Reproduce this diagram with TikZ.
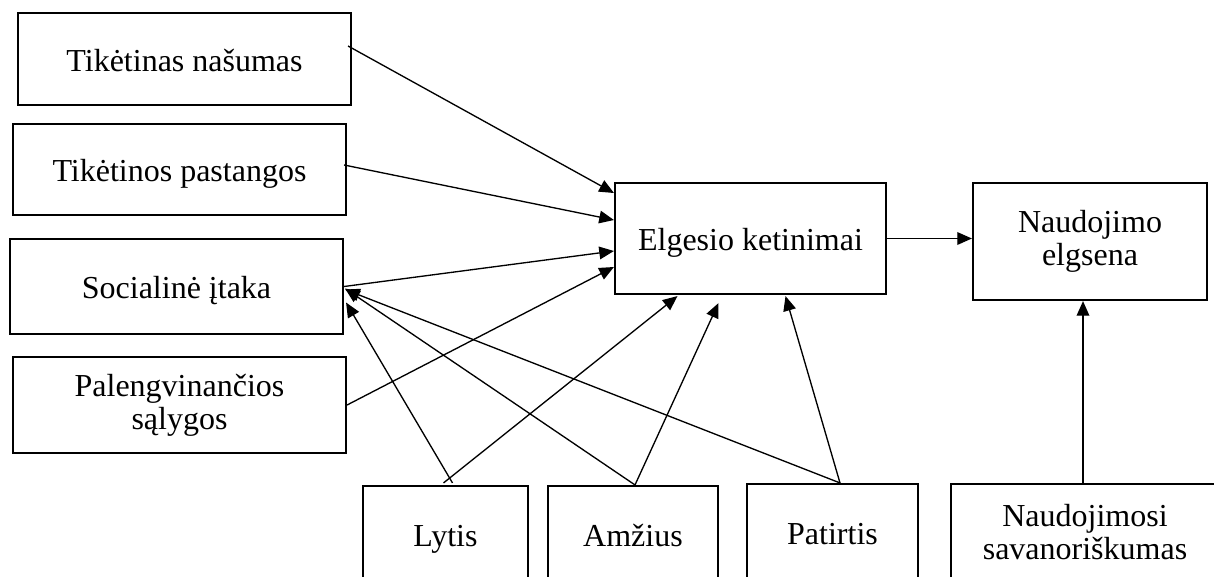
\documentclass[tikz,border=0pt]{standalone}
\usepackage{fontspec}
\setmainfont{Liberation Serif}
\usetikzlibrary{arrows.meta,calc}
\begin{document}
\begin{tikzpicture}[x=0.75pt,y=-0.75pt,
  box/.style={draw=black,line width=1.6pt,inner sep=0pt,align=center,
    font=\fontsize{24}{24.5}\selectfont,text=black,fill=white},
  one/.style={text height=24pt,text depth=6pt},
  conn/.style={line width=1pt,-{Triangle[length=11pt,width=9.5pt]}}]
\useasboundingbox (0,0) rectangle (1214,576);
\clip (0,0) rectangle (1214,576);
% boxes
\node[box,one,minimum width=249.75pt,minimum height=69pt] (TN) at (184.5,59) {Tikėtinas našumas};
\node[box,one,minimum width=249.75pt,minimum height=68.25pt] (TP) at (179.5,169.5) {Tikėtinos pastangos};
\node[box,one,minimum width=249.75pt,minimum height=71.25pt] (SI) at (176.5,286.5) {Socialinė įtaka};
\node[box,minimum width=249.75pt,minimum height=72pt] (PS) at (179.5,405) {Palengvinančios\\sąlygos};
\node[box,one,minimum width=203.25pt,minimum height=83.25pt] (EK) at (750.5,238.5) {Elgesio ketinimai};
\node[box,minimum width=175.5pt,minimum height=87.75pt] (NE) at (1090,241.5) {Naudojimo\\elgsena};
\node[box,one,minimum width=123.75pt,minimum height=72pt] (LY) at (445.5,534) {Lytis};
\node[box,one,minimum width=127.5pt,minimum height=72pt] (AM) at (633,534) {Amžius};
\node[box,one,minimum width=128.25pt,minimum height=72pt] (PA) at (832.5,532) {Patirtis};
\node[box,minimum width=201pt,minimum height=72pt] (NS) at (1085,532) {Naudojimosi\\savanoriškumas};
% connectors into EK from left
\draw[conn] ($(TN.east)+(-4,-13)$) -- ($(EK.west)+(0,-45.5)$);
\draw[conn] ($(TP.east)+(-3,-4.5)$) -- ($(EK.west)+(0,-18.5)$);
\draw[conn] (SI.east) -- ($(EK.west)+(0,12.5)$);
\draw[conn] (PS.east) -- ($(EK.west)+(0,28.5)$);
% moderators to SI
\draw[conn] ($(LY.north)+(7,-2)$) -- ($(SI.east)+(2,16)$);
\draw[conn] ($(AM.north)+(2,0)$) -- ($(SI.east)+(1,2)$);
\draw[conn] ($(PA.north)+(7.5,0)$) -- ($(SI.east)+(1,3)$);
% moderators to EK
\draw[conn] ($(LY.north)+(-2,-2)$) -- ($(EK.south)+(-73,1)$);
\draw[conn] ($(AM.north)+(2,0)$) -- ($(EK.south)+(-32,8)$);
\draw[conn] ($(PA.north)+(7.5,0)$) -- ($(EK.south)+(35,1)$);
% to NE
\draw[conn] (EK.east) -- (EK.east -| NE.west);
\draw[conn] ($(NS.north)+(-2,0)$) -- ($(NS.north |- NE.south)+(-2,0)$);
\end{tikzpicture}
\end{document}
